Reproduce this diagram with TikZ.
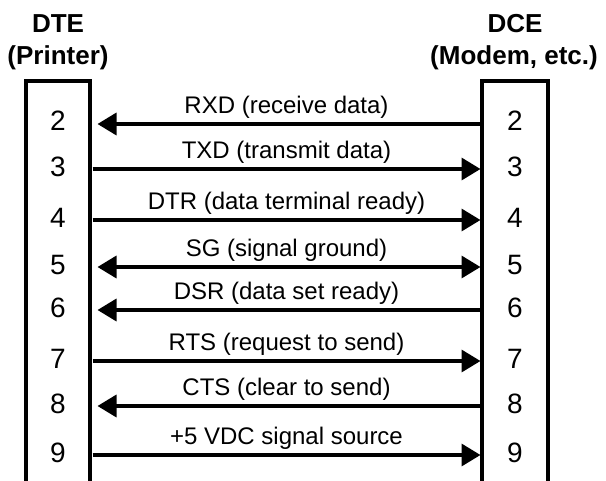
\documentclass[tikz,border=0pt]{standalone}
\usepackage{fontspec}
\setmainfont{Liberation Sans}
\usetikzlibrary{arrows.meta}

\tikzset{
  pinno/.style = {font=\fontsize{28}{32}\selectfont, inner sep=0pt},
  hdr/.style = {font=\bfseries\fontsize{26}{30}\selectfont, inner sep=0pt, anchor=base},
  lbl/.style = {font=\fontsize{24}{28}\selectfont, inner sep=0pt, above=4pt},
  tx/.style = {-{Triangle[length=19pt,width=22pt]}},
  rx/.style = {-{Triangle[length=19pt,width=22pt]}, shorten >=5pt},
  both/.style = {{Triangle[length=19pt,width=22pt]}-{Triangle[length=19pt,width=22pt]}, shorten <=5pt}
}

\begin{document}
\begin{tikzpicture}[x = 1pt, y = -1pt, line width = 3.5pt]
\useasboundingbox (0,0) rectangle (606,480);
\draw (26,484) -- (26,81) -- (90,81) -- (90,484);
\draw (482,484) -- (482,81) -- (548,81) -- (548,484);
\node[hdr] (dte) at (58,32) {DTE};
\node[hdr] (dtesub) at (58,64) {(Printer)};
\node[hdr] (dce) at (515,32) {DCE};
\node[hdr] (dcesub) at (514,64) {(Modem, etc.)};
\draw (58,121) node[pinno](l2){2} (515,121) node[pinno](r2){2}
    (58,167) node[pinno](l3){3} (515,167) node[pinno](r3){3}
    (58,218) node[pinno](l4){4} (515,218) node[pinno](r4){4}
    (58,265) node[pinno](l5){5} (515,265) node[pinno](r5){5}
    (58,308) node[pinno](l6){6} (515,308) node[pinno](r6){6}
    (58,359) node[pinno](l7){7} (515,359) node[pinno](r7){7}
    (58,404) node[pinno](l8){8} (515,404) node[pinno](r8){8}
    (58,453) node[pinno](l9){9} (515,453) node[pinno](r9){9};
\coordinate (a2) at (92.5,124); \coordinate (b2) at (480.5,124);
\coordinate (a3) at (92.5,169); \coordinate (b3) at (480.5,169);
\coordinate (a4) at (92.5,220); \coordinate (b4) at (480.5,220);
\coordinate (a5) at (92.5,267); \coordinate (b5) at (480.5,267);
\coordinate (a6) at (92.5,310); \coordinate (b6) at (480.5,310);
\coordinate (a7) at (92.5,361); \coordinate (b7) at (480.5,361);
\coordinate (a8) at (92.5,406); \coordinate (b8) at (480.5,406);
\coordinate (a9) at (92.5,455); \coordinate (b9) at (480.5,455);
    \draw [rx] (b2) -- (a2) node[midway,lbl] {RXD (receive data)};
    \draw [tx] (a3) -- (b3) node[midway,lbl] {TXD (transmit data)};
    \draw [tx] (a4) -- (b4) node[midway,lbl] {DTR (data terminal ready)};
    \draw [both] (a5) -- (b5) node[midway,lbl] {SG (signal ground)};
    \draw [rx] (b6) -- (a6) node[midway,lbl] {DSR (data set ready)};
    \draw [tx] (a7) -- (b7) node[midway,lbl] {RTS (request to send)};
    \draw [rx] (b8) -- (a8) node[midway,lbl] {CTS (clear to send)};
    \draw [tx] (a9) -- (b9) node[midway,lbl] {+5 VDC signal source};
\end{tikzpicture}
\end{document}
